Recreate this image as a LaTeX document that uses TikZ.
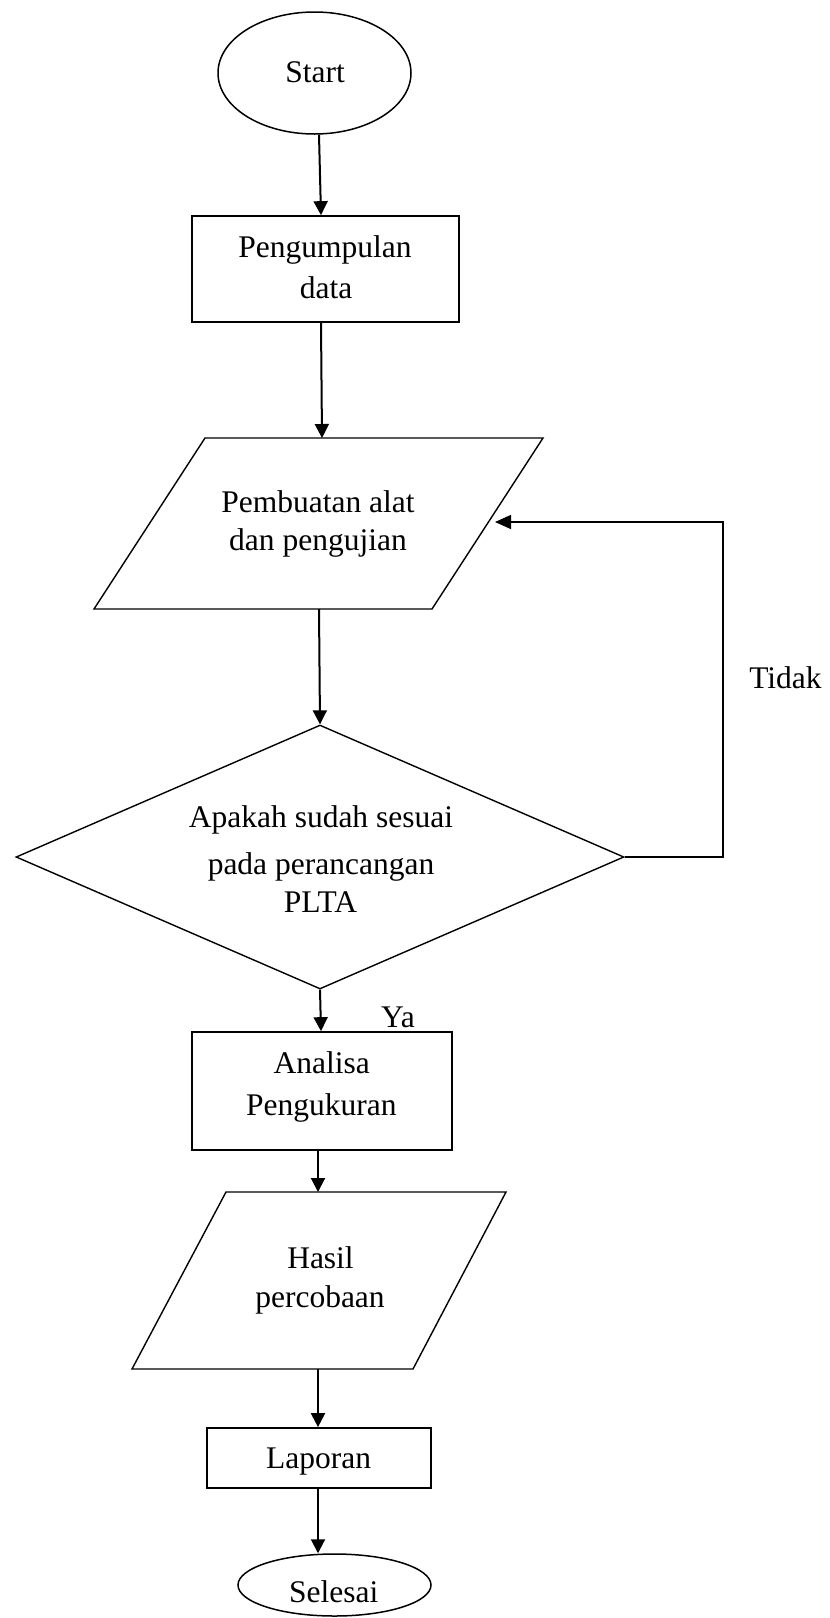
\documentclass[tikz,border=0pt]{standalone}
\usepackage{fontspec}
\setmainfont{Liberation Serif}
\usetikzlibrary{shapes.geometric,arrows.meta}
\begin{document}
\begin{tikzpicture}[x=1pt,y=-1pt,
  shp/.style={draw=black,line width=1.5pt,inner sep=0pt},
  ell/.style={shp,ellipse},
  box/.style={shp,rectangle,line width=1.7pt},
  dia/.style={shp,diamond,line width=1.4pt},
  para/.style={draw=black,line width=1.4pt,line join=miter},
  txt/.style={anchor=base,inner sep=0pt,font=\fontsize{31.5}{38}\selectfont},
  arr/.style={draw=black,line width=2pt,-{Triangle[length=14pt,width=14pt]}},
  looparr/.style={draw=black,line width=1.4pt,-{Triangle[length=16pt,width=14pt]}}]
\useasboundingbox (0,0) rectangle (830,1618);

% shapes
\node[ell,minimum width=193pt,minimum height=122pt] (start) at (314.5,73) {};
\node[box,minimum width=267pt,minimum height=106pt] (r1) at (325.5,269) {};
\draw[para] (205,438) -- (543,438) -- (432,609) -- (94,609) -- cycle;
\coordinate (p1t) at (322,438);
\coordinate (p1b) at (319,609);
\coordinate (p1r) at (495,522);
\node[dia,minimum width=608pt,minimum height=264pt] (d) at (320,857) {};
\node[box,minimum width=260pt,minimum height=118pt] (r2) at (322,1091) {};
\draw[para] (226,1192) -- (506,1192) -- (413,1369) -- (132,1369) -- cycle;
\coordinate (p2t) at (318,1192);
\coordinate (p2b) at (318,1369);
\node[box,minimum width=224pt,minimum height=60pt] (lap) at (319,1458) {};
\node[ell,minimum width=193pt,minimum height=62pt] (sel) at (334.5,1585) {};

% texts
\node[txt] (tstart) at (315,82) {Start};
\node[txt] (t1a) at (325,257) {Pengumpulan};
\node[txt] (t1b) at (326,298) {data};
\node[txt] (t2a) at (318,512) {Pembuatan alat};
\node[txt] (t2b) at (318,550) {dan pengujian};
\node[txt] (t3a) at (321,827) {Apakah sudah sesuai};
\node[txt] (t3b) at (321,874) {pada perancangan};
\node[txt] (t3c) at (320.5,912) {PLTA};
\node[txt] (t4a) at (321.7,1073) {Analisa};
\node[txt] (t4b) at (321.3,1115) {Pengukuran};
\node[txt] (t5a) at (320.5,1268) {Hasil};
\node[txt] (t5b) at (320,1307) {percobaan};
\node[txt] (t6) at (318.7,1468) {Laporan};
\node[txt] (t7) at (333.8,1602) {Selesai};
\node[txt] (tidak) at (785.5,688) {Tidak};
\node[txt] (ya) at (398,1027) {Ya};

% connectors
\draw[arr] ([xshift=4.5pt]start.south) -- ([xshift=-4.5pt]r1.north);
\draw[arr] ([xshift=-4.5pt]r1.south) -- (p1t);
\draw[arr] (p1b) -- (d.north);
\draw[arr] (d.south) -- ([xshift=-1pt]r2.north);
\draw[arr] ([xshift=-4pt]r2.south) -- (p2t);
\draw[arr] (p2b) -- ([xshift=-1pt]lap.north);
\draw[arr] ([xshift=-1pt]lap.south) -- ([xshift=-16.5pt]sel.north);
\coordinate (lc) at (723,522);
\draw[looparr] (d.east) -| (lc) -- (p1r);
\end{tikzpicture}
\end{document}
